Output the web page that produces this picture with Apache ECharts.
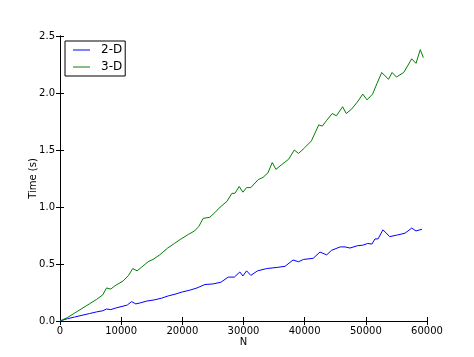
<!DOCTYPE html>
<html><head><meta charset="utf-8">
<script src="https://cdn.jsdelivr.net/npm/echarts@6/dist/echarts.min.js"></script>
<style>html,body{margin:0;padding:0;background:#fff}#c{width:474px;height:357px}</style>
</head><body><div id="c"></div>
<script>
const seriesNames = ['2-D', '3-D'];
const xTicks = [0, 10000, 20000, 30000, 40000, 50000, 60000];
const yTicks = [0.0, 0.5, 1.0, 1.5, 2.0, 2.5];

const n2d = [0,1200,2400,3600,4800,6000,7000,7600,8300,9200,10300,11000,11700,12400,13200,14200,15400,16600,17700,18800,20000,21200,22400,23700,25000,26300,27500,28500,29400,29900,30500,31200,32300,33800,35500,36800,38100,39000,39800,41400,42500,43600,44400,45800,46600,47400,48600,49500,50300,51000,51500,52000,52800,53900,55200,56400,57500,58200,59200];
const t2d = [0,0.02,0.035,0.05,0.065,0.08,0.09,0.105,0.10,0.115,0.13,0.14,0.17,0.15,0.16,0.175,0.185,0.20,0.22,0.235,0.255,0.27,0.29,0.32,0.325,0.34,0.385,0.385,0.43,0.395,0.44,0.40,0.44,0.46,0.47,0.48,0.535,0.52,0.54,0.55,0.605,0.58,0.62,0.65,0.65,0.64,0.66,0.665,0.68,0.675,0.72,0.72,0.80,0.74,0.755,0.77,0.815,0.79,0.805];

const n3d = [0,1200,2400,3600,4800,6000,7000,7600,8300,9000,10300,11200,11900,12600,13300,14400,15200,16300,17600,18700,19800,21000,22000,22700,23400,24500,25300,26200,27300,28100,28600,29300,29900,30500,31200,32400,33200,34000,34700,35300,36200,37400,38300,39000,40000,41100,42300,42900,43600,44500,45200,46200,46800,47700,48600,49500,50200,51100,51800,52600,53700,54300,55000,56200,57500,58200,58900,59400];
const t3d = [0,0.03,0.07,0.11,0.15,0.19,0.23,0.29,0.28,0.31,0.35,0.40,0.46,0.44,0.47,0.52,0.54,0.58,0.64,0.68,0.72,0.76,0.79,0.83,0.90,0.91,0.95,1.00,1.05,1.12,1.12,1.18,1.13,1.17,1.17,1.24,1.26,1.30,1.39,1.33,1.37,1.42,1.50,1.47,1.52,1.58,1.72,1.71,1.76,1.82,1.80,1.88,1.82,1.86,1.92,1.99,1.94,1.99,2.08,2.18,2.12,2.18,2.14,2.18,2.30,2.26,2.38,2.31];

const zip = (xs, ys) => xs.map((x, i) => [x, ys[i]]);
const font = 'DejaVu Sans';
const xMin = xTicks[0], xMax = xTicks[xTicks.length - 1], xInt = xTicks[1] - xTicks[0];
const yMin = yTicks[0], yMax = yTicks[yTicks.length - 1], yInt = yTicks[1] - yTicks[0];

const axLine = {show: true, lineStyle: {color: '#000', width: 1}};
const tick = {show: true, inside: true, length: 4, lineStyle: {color: '#000', width: 1}};
const lbl = {color: '#000', fontFamily: font, fontSize: 10};

const chart = echarts.init(document.getElementById('c'), null, {renderer: 'canvas'});
chart.setOption({
  animation: false,
  backgroundColor: '#fff',
  grid: {left: 60, right: 47, top: 36, bottom: 36, containLabel: false},
  legend: {
    data: seriesNames.map(n => ({name: n, icon: 'rect'})),
    left: 65, top: 41, orient: 'vertical',
    borderColor: '#000', borderWidth: 1, borderRadius: 0,
    padding: [3, 3, 3, 8], itemWidth: 17, itemHeight: 1, itemGap: 5,
    textStyle: {color: '#000', fontFamily: font, fontSize: 12, padding: [0, 0, 0, 6]}
  },
  xAxis: [
    {type: 'value', min: xMin, max: xMax, interval: xInt, position: 'bottom',
     name: 'N', nameLocation: 'middle', nameGap: 16, nameMoveOverlap: false,
     nameTextStyle: {color: '#000', fontFamily: font, fontSize: 10},
     axisLine: axLine, axisTick: tick,
     axisLabel: Object.assign({margin: 5, formatter: v => String(v)}, lbl),
     splitLine: {show: false}},
    {type: 'value', min: xMin, max: xMax, interval: xInt, position: 'top',
     axisLine: axLine, axisTick: tick, axisLabel: {show: false}, splitLine: {show: false}}
  ],
  yAxis: [
    {type: 'value', min: yMin, max: yMax, interval: yInt, position: 'left',
     name: 'Time (s)', nameLocation: 'middle', nameGap: 22, nameRotate: 90, nameMoveOverlap: false,
     nameTextStyle: {color: '#000', fontFamily: font, fontSize: 10},
     axisLine: axLine, axisTick: tick,
     axisLabel: Object.assign({margin: 5, formatter: v => v.toFixed(1)}, lbl),
     splitLine: {show: false}},
    {type: 'value', min: yMin, max: yMax, interval: yInt, position: 'right',
     axisLine: axLine, axisTick: tick, axisLabel: {show: false}, splitLine: {show: false}}
  ],
  series: [
    {name: seriesNames[0], type: 'line', data: zip(n2d, t2d), symbol: 'none',
     lineStyle: {color: '#0000ff', width: 1}, itemStyle: {color: '#0000ff'}},
    {name: seriesNames[1], type: 'line', data: zip(n3d, t3d), symbol: 'none',
     lineStyle: {color: '#008000', width: 1}, itemStyle: {color: '#008000'}}
  ]
});
</script></body></html>
